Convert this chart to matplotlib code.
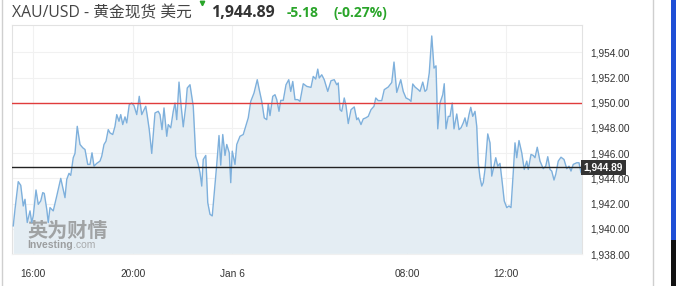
import matplotlib
matplotlib.use("Agg")
import matplotlib.pyplot as plt
from matplotlib.patches import Rectangle
import matplotlib.transforms as mtransforms

# ---------------- data ----------------
hours = [0.05, 0.12, 0.25, 0.35, 0.45, 0.52, 0.61, 0.72, 0.79, 0.85, 0.96, 1.05, 1.15, 1.23, 1.29, 1.39, 1.45, 1.52, 1.65, 1.79,
         1.95, 2.12, 2.19, 2.28, 2.35, 2.45, 2.52, 2.61, 2.72, 2.83, 2.92, 3.03, 3.12, 3.20, 3.28, 3.39, 3.52, 3.59, 3.68, 3.76,
         3.85, 3.92, 4.03, 4.12, 4.19, 4.28, 4.35, 4.43, 4.52, 4.59, 4.69, 4.79, 4.88, 4.99, 5.09, 5.19, 5.25, 5.35, 5.41, 5.49,
         5.59, 5.72, 5.85, 5.92, 6.00, 6.08, 6.19, 6.25, 6.35, 6.45, 6.52, 6.59, 6.68, 6.76, 6.85, 6.95, 7.01, 7.12, 7.25, 7.35,
         7.45, 7.52, 7.59, 7.65, 7.75, 7.83, 7.92, 8.01, 8.08, 8.19, 8.28, 8.35, 8.43, 8.52, 8.59, 8.69, 8.75, 8.81, 8.92, 8.99,
         9.12, 9.25, 9.35, 9.45, 9.55, 9.68, 9.81, 9.89, 9.99, 10.09, 10.19, 10.25, 10.32, 10.43, 10.52, 10.59, 10.68, 10.75, 10.85, 10.96,
         11.07, 11.15, 11.23, 11.32, 11.43, 11.52, 11.65, 11.79, 11.96, 12.05, 12.15, 12.23, 12.29, 12.39, 12.49, 12.63, 12.76, 12.89, 12.99, 13.05,
         13.12, 13.19, 13.29, 13.36, 13.45, 13.56, 13.69, 13.79, 13.85, 13.96, 14.05, 14.15, 14.25, 14.36, 14.48, 14.55, 14.65, 14.79, 14.89, 15.05,
         15.12, 15.19, 15.28, 15.39, 15.55, 15.65, 15.76, 15.89, 15.96, 16.03, 16.12, 16.25, 16.32, 16.43, 16.52, 16.59, 16.69, 16.79, 16.88, 16.96,
         17.03, 17.12, 17.23, 17.29, 17.36, 17.45, 17.52, 17.61, 17.68, 17.79, 17.88, 17.96, 18.05, 18.12, 18.19, 18.28, 18.35, 18.43, 18.52, 18.59,
         18.65, 18.72, 18.79, 18.85, 18.92, 19.03, 19.12, 19.19, 19.25, 19.35, 19.43, 19.52, 19.61, 19.69, 19.79, 19.88, 19.96, 20.05, 20.12, 20.19,
         20.28, 20.39, 20.49, 20.59, 20.65, 20.76, 20.85, 20.92, 21.01, 21.12, 21.25, 21.35, 21.43, 21.52, 21.59, 21.68, 21.75, 21.85, 21.96, 22.08,
         22.19, 22.28, 22.36, 22.45, 22.59, 22.68, 22.76, 22.83]

prices = [1940.23, 1941.55, 1943.74, 1943.45, 1941.81, 1942.34, 1940.50, 1941.42, 1940.50, 1941.02, 1943.08, 1941.94, 1942.21, 1942.87, 1942.81, 1941.55, 1940.50, 1941.68, 1941.42, 1942.60,
          1944.00, 1942.47, 1943.92, 1944.40, 1944.24, 1945.64, 1945.98, 1948.13, 1946.69, 1946.43, 1946.29, 1945.11, 1945.11, 1946.03, 1944.97, 1945.19, 1945.37, 1945.76, 1946.69, 1946.95,
          1947.87, 1947.61, 1947.48, 1948.13, 1949.06, 1948.53, 1949.06, 1948.27, 1948.88, 1948.40, 1949.85, 1949.98, 1949.77, 1949.06, 1950.51, 1949.06, 1949.32, 1949.72, 1948.98, 1947.87,
          1945.98, 1949.19, 1949.32, 1949.06, 1947.87, 1949.59, 1947.34, 1948.27, 1948.01, 1949.32, 1949.98, 1948.66, 1951.64, 1949.85, 1948.09, 1949.72, 1951.17, 1951.43, 1949.72, 1945.76,
          1945.11, 1944.45, 1943.39, 1945.50, 1945.82, 1942.08, 1941.15, 1941.02, 1942.60, 1945.11, 1947.40, 1945.05, 1947.48, 1945.82, 1946.69, 1946.03, 1943.66, 1946.16, 1945.11, 1946.69,
          1947.34, 1947.48, 1948.13, 1948.80, 1950.11, 1950.77, 1951.83, 1951.04, 1950.11, 1948.80, 1948.66, 1949.93, 1948.98, 1950.51, 1950.64, 1950.25, 1949.32, 1950.19, 1950.19, 1951.43,
          1951.83, 1950.90, 1951.69, 1950.25, 1950.25, 1950.11, 1951.51, 1951.30, 1951.22, 1952.09, 1951.88, 1952.67, 1951.96, 1952.22, 1951.83, 1950.90, 1951.75, 1951.83, 1951.43, 1951.57,
          1949.45, 1949.32, 1950.38, 1949.77, 1948.35, 1949.45, 1949.67, 1948.66, 1948.80, 1948.27, 1948.72, 1948.80, 1948.92, 1949.45, 1949.72, 1950.38, 1950.17, 1950.17, 1951.04, 1951.25,
          1951.43, 1951.61, 1953.23, 1950.82, 1951.83, 1950.90, 1950.38, 1950.25, 1950.11, 1951.49, 1951.25, 1951.04, 1950.90, 1951.64, 1950.90, 1951.04, 1952.36, 1955.30, 1952.75, 1952.93,
          1947.93, 1949.98, 1950.64, 1951.51, 1947.93, 1948.92, 1948.92, 1949.98, 1947.93, 1949.11, 1947.87, 1948.01, 1948.40, 1948.80, 1948.13, 1949.06, 1949.64, 1948.92, 1949.32, 1948.13,
          1945.24, 1944.06, 1943.39, 1943.66, 1944.71, 1947.53, 1946.82, 1944.18, 1944.71, 1945.64, 1944.97, 1945.19, 1943.66, 1942.21, 1941.68, 1941.81, 1941.68, 1944.45, 1946.82, 1945.64,
          1947.00, 1946.03, 1944.71, 1945.37, 1944.71, 1945.90, 1945.82, 1945.64, 1946.47, 1945.37, 1944.77, 1944.97, 1945.72, 1944.71, 1944.58, 1943.87, 1944.32, 1945.37, 1945.68, 1945.50,
          1944.77, 1944.97, 1944.58, 1945.11, 1945.24, 1945.24, 1944.45, 1944.89]

x_tick_pos = [0.84, 4.84, 8.80, 15.80, 19.76]
x_tick_labels = ["16:00", "20:00", "Jan 6", "08:00", "12:00"]
y_ticks = [1938, 1940, 1942, 1944, 1946, 1948, 1950, 1952, 1954]

last_price = 1944.89
ref_level = 1950.00
change = "-5.18"
change_pct = "(-0.27%)"
title = "XAU/USD - 黄金现货 美元"

# ---------------- figure ----------------
W, H = 676, 286
fig = plt.figure(figsize=(W / 100, H / 100), dpi=100)
fig.patch.set_facecolor("white")


def fx(x):
    return x / W


def fy(y):
    return 1 - y / H


AX_L, AX_R, AX_T, AX_B = 12, 582, 25, 254
ax = fig.add_axes([fx(AX_L), 1 - AX_B / H, (AX_R - AX_L) / W, (AX_B - AX_T) / H])
ax.set_facecolor("white")
ax.set_xlim(0, 22.8)
ax.set_ylim(1938.05, 1956.17)


def ax_pos(x, y):
    return (x - AX_L) / (AX_R - AX_L), (AX_B - y) / (AX_B - AX_T)


# grid
for yv in y_ticks:
    ax.axhline(yv, color="#f1f1f1", lw=0.8, zorder=0)
for xv in x_tick_pos:
    ax.axvline(xv, color="#f1f1f1", lw=0.8, zorder=0)

# area
ax.fill_between(hours, prices, 1938.05, color="#e4edf3", lw=0, zorder=1)

# watermark
ax.text(*ax_pos(27, 241), "英为财情", transform=ax.transAxes,
        fontsize=14.5, fontweight="bold", color="#8a8a8a", alpha=0.75,
        family=["Noto Sans CJK SC"], ha="left", va="bottom", zorder=2)
ax.text(*ax_pos(27, 250), "Investing", transform=ax.transAxes,
        fontsize=7.5, fontweight="bold", color="#8a8a8a", alpha=0.8,
        family=["Liberation Sans"], ha="left", va="bottom", zorder=2)
ax.text(*ax_pos(73, 250), ".com", transform=ax.transAxes,
        fontsize=7.5, color="#9a9a9a", alpha=0.8,
        family=["Liberation Sans"], ha="left", va="bottom", zorder=2)

# line and levels
ax.plot(hours, prices, color="#7eb0dc", lw=1.0, zorder=3)
ax.axhline(ref_level, color="#e03c3c", lw=1.0, zorder=4)
ax.axhline(last_price, color="#222222", lw=1.0, zorder=4)

# axes styling
for s in ax.spines.values():
    s.set_color("#e2e2e2")
    s.set_linewidth(0.8)
ax.spines["bottom"].set_color("#f0f0f0")

ax.yaxis.tick_right()
ax.set_yticks(y_ticks)
ax.set_yticklabels([f"{v:,.2f}" for v in y_ticks])
ax.set_xticks(x_tick_pos)
ax.set_xticklabels(x_tick_labels)
ax.tick_params(axis="y", length=0, pad=6, labelsize=7.3, labelcolor="#333333")
ax.tick_params(axis="x", length=0, pad=11, labelsize=7.3, labelcolor="#333333")
for lab in ax.get_xticklabels() + ax.get_yticklabels():
    lab.set_family("Liberation Sans")

# last price badge
trans = mtransforms.blended_transform_factory(ax.transAxes, ax.transData)
ax.text(1.003, last_price, f"{last_price:,.2f}", transform=trans, ha="left", va="center",
        fontsize=7.3, fontweight="bold", color="white", family="Liberation Sans",
        bbox=dict(boxstyle="square,pad=0.25", fc="#333333", ec="none"), zorder=6, clip_on=False)

# header texts
fig.text(fx(12), fy(13), title, fontsize=11.3, color="#444444",
         family=["Open Sans", "Noto Sans CJK SC"], ha="left", va="center")
fig.text(fx(211), fy(13), f"{last_price:,.2f}", fontsize=11.5, fontweight="bold", color="#333333",
         family=["Open Sans"], ha="left", va="center")
fig.text(fx(287), fy(13), change, fontsize=10, fontweight="bold", color="#2aa52a",
         family=["Open Sans"], ha="left", va="center")
fig.text(fx(333), fy(13), change_pct, fontsize=10, fontweight="bold", color="#2aa52a",
         family=["Open Sans"], ha="left", va="center")
fig.add_artist(plt.Line2D([fx(202)], [fy(3)], marker="v", markersize=3.2, color="#2aa52a",
                          transform=fig.transFigure))

# page borders
fig.add_artist(plt.Line2D([fx(1.5), fx(1.5)], [0, 1], color="#cfcfcf", lw=1, transform=fig.transFigure))
fig.add_artist(plt.Line2D([fx(652.5), fx(652.5)], [0, 1], color="#cfcfcf", lw=1, transform=fig.transFigure))
fig.add_artist(Rectangle((fx(671), fy(240)), fx(5), 240 / H, transform=fig.transFigure,
                         fc="#1f4fd6", ec="none"))
fig.add_artist(Rectangle((fx(671), 0), fx(5), 1 - 240 / H, transform=fig.transFigure,
                         fc="#111111", ec="none"))

fig.savefig("out.png", dpi=100)
